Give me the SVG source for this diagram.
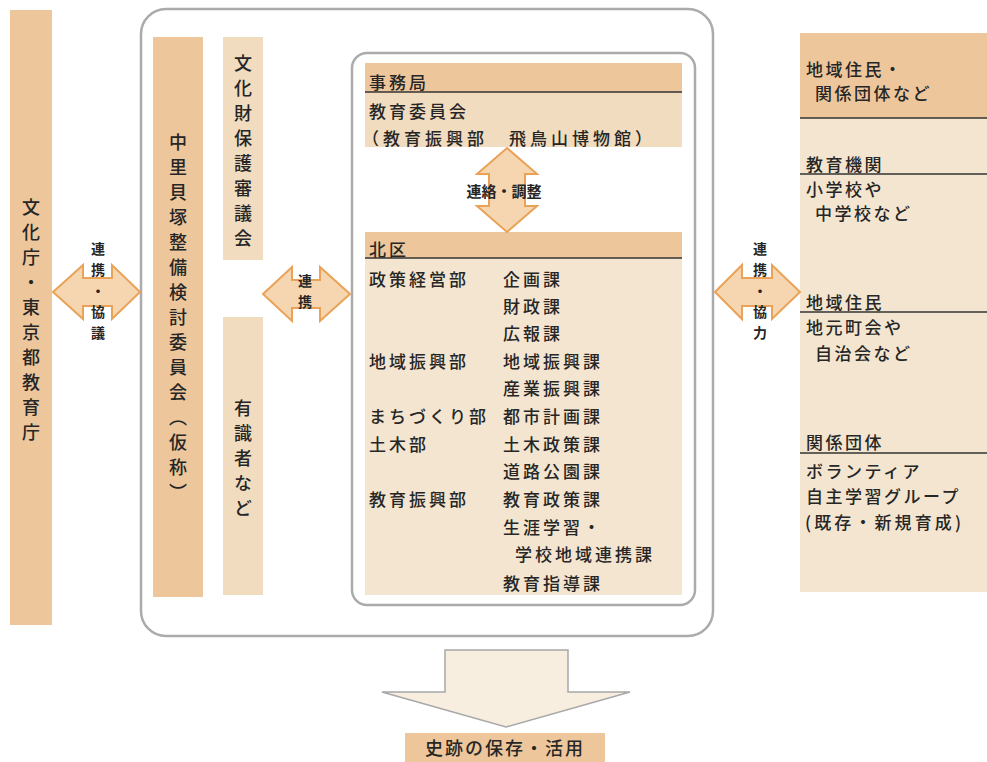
<svg xmlns="http://www.w3.org/2000/svg" width="987" height="762" viewBox="0 0 987 762">
<style>
text{font-family:"Noto Sans CJK JP","Noto Sans",sans-serif;fill:#262626;font-weight:500}
.h{font-size:17px;letter-spacing:3px}
.r{font-size:17px;letter-spacing:2.5px}
.v{font-size:18px;letter-spacing:7px;writing-mode:vertical-rl;text-anchor:start}
.av{font-size:14px;font-weight:bold;letter-spacing:7px;writing-mode:vertical-rl;text-anchor:middle}
.al{font-size:15px;font-weight:bold;text-anchor:middle}
.arr{fill:#f5d6b0;stroke:#e9a257;stroke-width:2;stroke-linejoin:miter}
.dark{fill:#eec69c}
.mid{fill:#f1dcc0}
.light{fill:#f3e5cf}
.ln{stroke:#333;stroke-width:1.5}
.frame{fill:#fff;stroke:#ababab;stroke-width:2.5}
</style>
<rect width="987" height="762" fill="#fff"/>

<g id="outer-frame"><rect class="frame" x="141" y="9" width="572" height="627" rx="25"/></g>

<g id="bunkacho">
<rect class="dark" x="10" y="10" width="42" height="615"/>
<text class="v" x="31" y="198">文化庁・東京都教育庁</text>
</g>

<g id="nakazato-committee">
<rect class="dark" x="153" y="37" width="50" height="560"/>
<text class="v" x="178" y="133">中里貝塚整備検討委員会（仮称）</text>
</g>

<g id="bunkazai-council">
<rect class="mid" x="223" y="37" width="40" height="223"/>
<text class="v" x="243" y="54">文化財保護審議会</text>
</g>

<g id="experts">
<rect class="mid" x="223" y="317" width="40" height="278"/>
<text class="v" x="243" y="399">有識者など</text>
</g>

<g id="inner-frame"><rect class="frame" x="352" y="53" width="343" height="552" rx="15"/></g>

<g id="jimukyoku">
<rect class="mid" x="365" y="63" width="317" height="84"/>
<rect class="dark" x="365" y="63" width="317" height="29"/>
<line class="ln" x1="365" y1="92" x2="682" y2="92"/>
<text class="h" x="369" y="89">事務局</text>
<text class="h" x="369" y="118">教育委員会</text>
<text x="362" y="145" style="font-size:17px;letter-spacing:4px">（教育振興部　飛鳥山博物館）</text>
</g>

<g id="kitaku">
<rect class="light" x="365" y="232" width="317" height="363"/>
<rect class="dark" x="365" y="232" width="317" height="26"/>
<line class="ln" x1="365" y1="258" x2="682" y2="258"/>
<text class="h" x="369" y="256">北区</text>
<text class="h" x="369" y="286">政策経営部</text>
<text class="h" x="503" y="286">企画課</text>
<text class="h" x="503" y="313">財政課</text>
<text class="h" x="503" y="340">広報課</text>
<text class="h" x="369" y="368">地域振興部</text>
<text class="h" x="503" y="368">地域振興課</text>
<text class="h" x="503" y="395">産業振興課</text>
<text class="h" x="369" y="423">まちづくり部</text>
<text class="h" x="503" y="423">都市計画課</text>
<text class="h" x="369" y="451">土木部</text>
<text class="h" x="503" y="451">土木政策課</text>
<text class="h" x="503" y="478">道路公園課</text>
<text class="h" x="369" y="506">教育振興部</text>
<text class="h" x="503" y="506">教育政策課</text>
<text class="h" x="503" y="534">生涯学習・</text>
<text class="h" x="515" y="561">学校地域連携課</text>
<text class="h" x="503" y="590">教育指導課</text>
</g>

<g id="stakeholders">
<rect class="light" x="800" y="33" width="187" height="559"/>
<rect class="dark" x="800" y="33" width="187" height="85"/>
<line class="ln" x1="800" y1="118" x2="987" y2="118"/>
<text class="r" x="806" y="76">地域住民・</text>
<text class="r" x="815" y="100">関係団体など</text>
<line class="ln" x1="800" y1="174" x2="987" y2="174"/>
<text class="r" x="806" y="171">教育機関</text>
<text class="r" x="806" y="196">小学校や</text>
<text class="r" x="815" y="220">中学校など</text>
<line class="ln" x1="800" y1="312" x2="987" y2="312"/>
<text class="r" x="806" y="309">地域住民</text>
<text class="r" x="806" y="334">地元町会や</text>
<text class="r" x="815" y="360">自治会など</text>
<line class="ln" x1="800" y1="453" x2="987" y2="453"/>
<text class="r" x="806" y="449">関係団体</text>
<text class="r" x="806" y="478">ボランティア</text>
<text class="r" x="806" y="503">自主学習グループ</text>
<text x="805" y="529" style="font-size:17px" textLength="156" lengthAdjust="spacing">(既存・新規育成)</text>
</g>

<g id="result">
<rect class="dark" x="405" y="733" width="200" height="29"/>
<text x="505" y="755" style="font-size:18px;letter-spacing:2px;text-anchor:middle">史跡の保存・活用</text>
</g>

<g id="connectors">
<path class="arr" d="M53,292 L83,265 L83,278 L112,278 L112,265 L140,292 L112,319 L112,306 L83,306 L83,319 Z"/>
<text class="av" x="98" y="294">連携・協議</text>
<path class="arr" d="M263,294 L292,267 L292,280 L320,280 L320,267 L350,294 L320,321 L320,308 L292,308 L292,321 Z"/>
<text class="av" x="305" y="295">連携</text>
<path class="arr" d="M715,292 L742,265 L742,278 L772,278 L772,265 L800,292 L772,319 L772,306 L742,306 L742,319 Z"/>
<text class="av" x="760" y="294">連携・協力</text>
<path class="arr" d="M507,148 L537,174 L525,174 L525,206 L537,206 L507,232 L477,206 L489,206 L489,174 L477,174 Z"/>
<text class="al" x="504" y="197">連絡・調整</text>
<path d="M445,650 L568,650 L568,692 L630,692 L506,727 L382,692 L445,692 Z" fill="#f7eedf" stroke="#a8a8a8" stroke-width="1.5"/>
</g>
</svg>
